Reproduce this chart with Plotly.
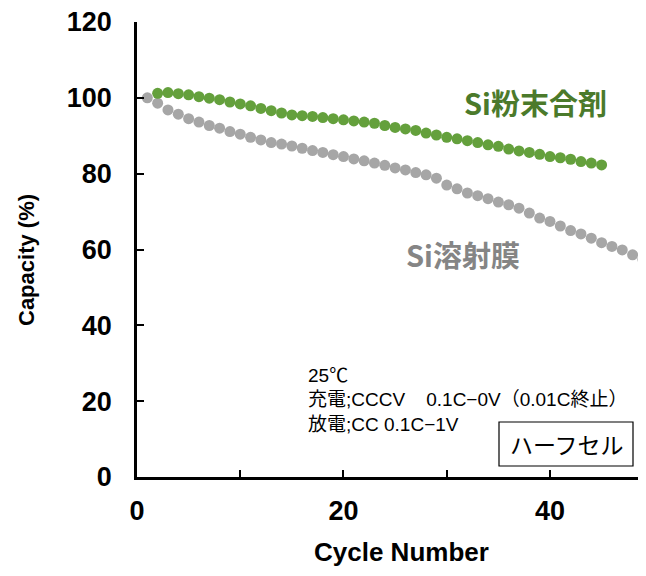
import plotly.graph_objects as go

# cycle numbers and capacity retention (%)
film_cycles = list(range(1, 50))
film_capacity = [
    100.0, 98.6, 96.8, 95.7, 94.5, 93.6, 92.7, 92.0, 91.1, 90.4,
    89.6, 88.9, 88.2, 87.8, 87.3, 86.7, 86.1, 85.6, 85.0, 84.5,
    83.9, 83.4, 82.8, 82.2, 81.5, 81.0, 80.3, 79.7, 78.8, 77.0,
    76.0, 74.9, 74.2, 73.4, 72.5, 71.8, 70.9, 69.6, 68.3, 67.4,
    66.2, 65.0, 64.1, 63.0, 61.8, 60.8, 59.9, 58.6, 57.4,
]

powder_cycles = list(range(2, 46))
powder_capacity = [
    101.2, 101.4, 101.1, 100.8, 100.3, 99.9, 99.5, 98.9, 98.4, 97.9,
    97.2, 96.6, 96.0, 95.5, 95.3, 95.1, 94.8, 94.5, 94.2, 93.9,
    93.6, 93.3, 92.7, 92.2, 91.8, 91.4, 90.7, 90.2, 89.6, 89.2,
    88.7, 88.2, 87.6, 87.2, 86.5, 86.0, 85.6, 85.1, 84.5, 84.2,
    83.8, 83.2, 82.8, 82.3,
]

x_tickvals = [0, 10, 20, 30, 40]
x_ticktext = ["0", "", "20", "", "40"]
y_tickvals = [0, 20, 40, 60, 80, 100, 120]

powder_label = "Si粉末合剤"
film_label = "Si溶射膜"
condition_lines = [
    "25℃",
    "充電;CCCV    0.1C−0V（0.01C終止）",
    "放電;CC 0.1C−1V",
]
cell_label = "ハーフセル"
x_title = "Cycle Number"
y_title = "Capacity (%)"

# page has an 8px body margin; keep the figure inside the window
OFF = 8
W, H = 646 - OFF, 576 - 2 * OFF
L, T = 137 - OFF, 22 - OFF
B = H - (477 - OFF)
R = 0
PW, PH = W - L - R, H - T - B


def px(x):
    return (x - OFF - L) / PW


def py(y):
    return (H - B - (y - OFF)) / PH


latin = "Liberation Sans, Arial, sans-serif"
jp = "Noto Sans CJK JP, sans-serif"
mixed = "Liberation Sans, Noto Sans CJK JP, sans-serif"

fig = go.Figure()

fig.add_trace(
    go.Scatter(
        x=film_cycles,
        y=film_capacity,
        mode="markers",
        name=film_label,
        marker=dict(size=11, color="#a6a6a6"),
        cliponaxis=False,
    )
)

fig.add_trace(
    go.Scatter(
        x=powder_cycles,
        y=powder_capacity,
        mode="markers",
        name=powder_label,
        marker=dict(size=11, color="#64a03c"),
        cliponaxis=False,
    )
)

annotations = [
    dict(
        text=powder_label, x=px(535), y=py(102), xref="paper", yref="paper",
        xanchor="center", yanchor="middle", showarrow=False,
        font=dict(family=jp, size=29, color="#4b7a2b", weight="bold"),
    ),
    dict(
        text=film_label, x=px(463), y=py(254), xref="paper", yref="paper",
        xanchor="center", yanchor="middle", showarrow=False,
        font=dict(family=jp, size=29, color="#858585", weight="bold"),
    ),
    dict(
        text=y_title, x=px(27), y=py(260), xref="paper", yref="paper",
        xanchor="center", yanchor="middle", showarrow=False, textangle=-90,
        font=dict(family=latin, size=22, color="black", weight="bold"),
    ),
    dict(
        text=x_title, x=px(401), y=py(552), xref="paper", yref="paper",
        xanchor="center", yanchor="middle", showarrow=False,
        font=dict(family=latin, size=26, color="black", weight="bold"),
    ),
]

for i, line in enumerate(condition_lines):
    annotations.append(
        dict(
            text=line, x=px(306), y=py(375 + i * 24.5), xref="paper", yref="paper",
            xanchor="left", yanchor="middle", showarrow=False,
            font=dict(family=mixed, size=19, color="black"),
        )
    )

annotations.append(
    dict(
        text=cell_label, x=px(567), y=py(444), xref="paper", yref="paper",
        xanchor="center", yanchor="middle", showarrow=False,
        font=dict(family=jp, size=23, color="black"),
    )
)

fig.update_layout(
    width=W,
    height=H,
    margin=dict(l=L, r=R, t=T, b=B),
    paper_bgcolor="white",
    plot_bgcolor="white",
    showlegend=False,
    annotations=annotations,
    shapes=[
        dict(
            type="rect", xref="paper", yref="paper",
            x0=px(499), x1=px(633), y0=py(466), y1=py(422),
            line=dict(color="black", width=1.2), fillcolor="white", layer="below",
        )
    ],
    xaxis=dict(
        range=[0, 49.3],
        tickvals=x_tickvals,
        ticktext=x_ticktext,
        ticks="inside",
        ticklen=7,
        tickwidth=2,
        tickcolor="black",
        showline=True,
        linecolor="black",
        linewidth=2.5,
        showgrid=False,
        zeroline=False,
        ticklabelstandoff=8,
        tickfont=dict(family=latin, size=27, color="black", weight="bold"),
    ),
    yaxis=dict(
        range=[0, 120],
        tickvals=y_tickvals,
        ticks="inside",
        ticklen=7,
        tickwidth=2,
        tickcolor="black",
        showline=True,
        linecolor="black",
        linewidth=2.5,
        showgrid=False,
        zeroline=False,
        ticklabelstandoff=17,
        ticklabeloverflow="allow",
        tickfont=dict(family=latin, size=27, color="black", weight="bold"),
    ),
)

fig.write_html("out.html")
